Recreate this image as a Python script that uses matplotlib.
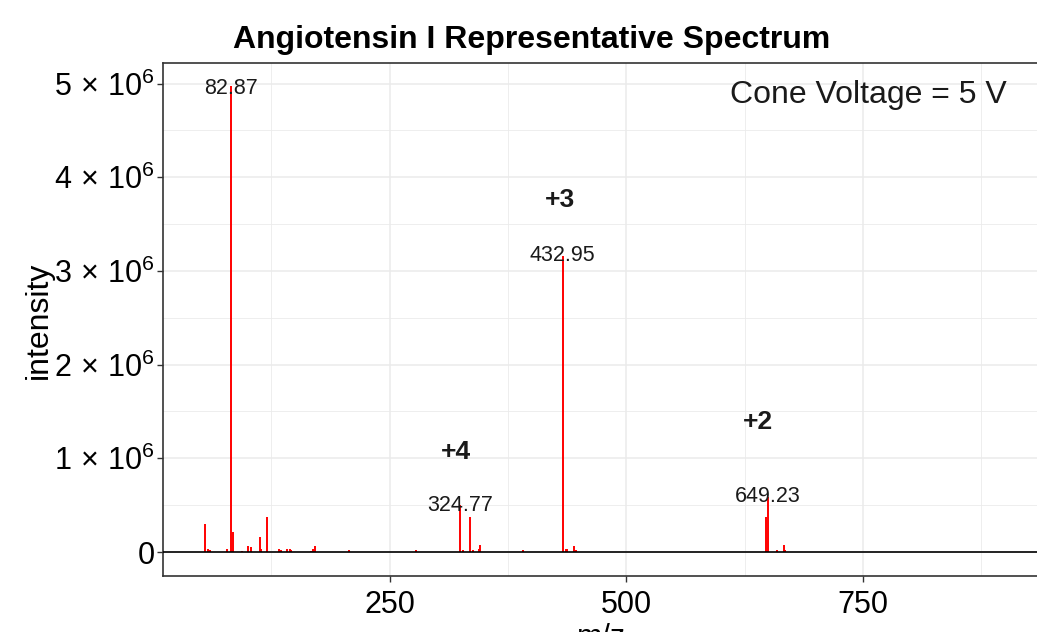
import matplotlib
matplotlib.use("Agg")
import matplotlib.pyplot as plt

plt.rcParams["font.family"] = ["Liberation Sans", "DejaVu Sans"]
plt.rcParams["mathtext.fontset"] = "custom"
plt.rcParams["mathtext.rm"] = "Liberation Sans"
plt.rcParams["mathtext.it"] = "Liberation Sans:italic"

# spectrum sticks (m/z, intensity)
mz = [55.1, 58.0, 60.1, 78.4, 82.87, 84.6, 94.2, 100.3, 103.7, 112.9, 114.6,
      120.7, 133.4, 135.2, 141.5, 144.7, 146.0, 166.5, 169.0, 171.1, 207.4,
      277.9, 324.77, 327.8, 335.0, 337.8, 344.1, 345.9, 391.4, 432.95, 436.5,
      437.9, 445.3, 446.7, 647.5, 649.23, 659.5, 666.2, 668.0]
intensity = [0.30e6, 0.03e6, 0.02e6, 0.03e6, 4.97e6, 0.21e6, 0.015e6, 0.065e6,
             0.05e6, 0.16e6, 0.03e6, 0.37e6, 0.03e6, 0.02e6, 0.035e6, 0.03e6,
             0.02e6, 0.015e6, 0.035e6, 0.06e6, 0.02e6, 0.02e6, 0.50e6, 0.02e6,
             0.37e6, 0.02e6, 0.03e6, 0.08e6, 0.02e6, 3.16e6, 0.03e6, 0.03e6,
             0.065e6, 0.02e6, 0.37e6, 0.59e6, 0.02e6, 0.07e6, 0.02e6]

peak_labels = ["82.87", "324.77", "432.95", "649.23"]
peak_mz = [82.87, 324.77, 432.95, 649.23]
peak_int = [4.95e6, 0.50e6, 3.16e6, 0.59e6]

charge_labels = ["+4", "+3", "+2"]
charge_mz = [320.5, 430.5, 639.5]
charge_y = [1.065e6, 3.76e6, 1.39e6]

yticks = [0, 1e6, 2e6, 3e6, 4e6, 5e6]
ytick_labels = ["0", r"$1\,\times\,10^{6}$", r"$2\,\times\,10^{6}$", r"$3\,\times\,10^{6}$",
                r"$4\,\times\,10^{6}$", r"$5\,\times\,10^{6}$"]
xticks = [250, 500, 750]

fig = plt.figure(figsize=(10.37, 6.32), dpi=100)
ax = fig.add_axes([163 / 1037, 1 - 576 / 632, (1040 - 163) / 1037, (576 - 62.7) / 632])

ax.vlines(mz, 0, intensity, color="red", lw=1.4, zorder=3)
ax.axhline(0, color="black", lw=1.2, zorder=4)

for lab, x, y in zip(peak_labels, peak_mz, peak_int):
    ax.text(x, y, lab, ha="center", va="center", fontsize=15.5, color="#1a1a1a", zorder=5)
for lab, x, y in zip(charge_labels, charge_mz, charge_y):
    ax.text(x, y, lab, ha="center", va="center", fontsize=19, fontweight="bold",
            color="#1a1a1a", zorder=5)
ax.text(756, 4.88e6, "Cone Voltage = 5 V", ha="center", va="center", fontsize=23,
        color="#1a1a1a", zorder=5)

ax.set_xlim(10.7, 937)
ax.set_ylim(-0.256e6, 5.222e6)
ax.set_xticks(xticks)
ax.set_yticks(yticks)
ax.set_yticklabels(ytick_labels)
ax.set_xticks([125, 375, 625, 875], minor=True)
ax.set_yticks([0.5e6, 1.5e6, 2.5e6, 3.5e6, 4.5e6], minor=True)
ax.grid(which="major", color="#ebebeb", lw=1.1)
ax.grid(which="minor", color="#ebebeb", lw=0.6)
ax.set_axisbelow(True)
ax.tick_params(which="major", length=4, width=1, color="#333333", labelsize=22,
               labelcolor="black")
ax.tick_params(axis="x", pad=6)
ax.tick_params(axis="y", pad=2)
ax.tick_params(which="minor", length=0)
for s in ax.spines.values():
    s.set_color("#333333")
    s.set_linewidth(1.2)

ax.set_ylabel("intensity", fontsize=23)
ax.yaxis.set_label_coords(-0.124, 0.499)
ax.set_xlabel("m/z", fontsize=22, labelpad=2)

fig.text(532 / 1037, 1 - 40 / 632, "Angiotensin I Representative Spectrum",
         ha="center", va="center", fontsize=23, fontweight="bold", color="black")

fig.savefig("out.png", dpi=100)
